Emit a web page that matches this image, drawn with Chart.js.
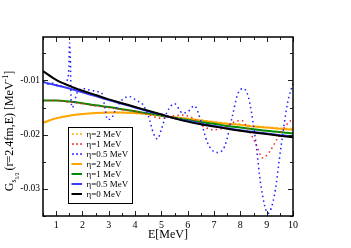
<!DOCTYPE html>
<html><head><meta charset="utf-8">
<script src="https://cdn.jsdelivr.net/npm/chart.js@4/dist/chart.umd.min.js"></script>
<style>html,body{margin:0;padding:0;background:#fff;}</style>
</head><body>
<canvas id="c" width="351" height="248"></canvas>
<script>
// ---- data ----
const smoothE = [0.5,1,1.5,2,2.5,3,3.5,4,4.5,5,5.5,6,6.5,7,7.5,8,8.5,9,9.5,10];
const eta0Solid   = [-0.0083,-0.0099,-0.0110,-0.0119,-0.0127,-0.0135,-0.0142,-0.0149,-0.0156,-0.0163,-0.0170,-0.0176,-0.0181,-0.0185,-0.0189,-0.0193,-0.0196,-0.0199,-0.0202,-0.0205];
const eta05Solid  = [-0.0103,-0.0109,-0.0115,-0.0122,-0.0129,-0.0136,-0.0143,-0.0150,-0.0157,-0.0163,-0.0170,-0.0175,-0.0180,-0.0184,-0.0188,-0.0192,-0.0195,-0.0198,-0.0201,-0.0203];
const eta1Solid   = [-0.0137,-0.0137,-0.0139,-0.0142,-0.0146,-0.0149,-0.0153,-0.0157,-0.0161,-0.0165,-0.0169,-0.0173,-0.0177,-0.0180,-0.0184,-0.0187,-0.0190,-0.0193,-0.0195,-0.0198];
const eta2Solid   = [-0.0178,-0.0170,-0.0165,-0.0162,-0.0160,-0.0159,-0.0159,-0.0160,-0.0162,-0.0165,-0.0168,-0.0171,-0.0174,-0.0177,-0.0180,-0.0182,-0.0185,-0.0187,-0.0189,-0.0191];
const eta2Dotted  = [-0.0177,-0.0169,-0.0165,-0.0162,-0.0160,-0.0159,-0.0160,-0.0161,-0.0163,-0.0166,-0.0168,-0.0170,-0.0173,-0.0176,-0.0179,-0.0181,-0.0184,-0.0186,-0.0188,-0.0189];

const redE        = [0.5,1,1.5,2,2.5,3,3.5,4,4.5,5,5.4,5.8,6.2,6.6,7,7.4,7.8,8.05,8.35,8.6,8.85,9.1,9.4,9.7,10];
const eta1Dotted  = [-0.0137,-0.0137,-0.0140,-0.0143,-0.0147,-0.0150,-0.0154,-0.0157,-0.0163,-0.0170,-0.0166,-0.0164,-0.0170,-0.0185,-0.0191,-0.0187,-0.0176,-0.0174,-0.0195,-0.0218,-0.0243,-0.0232,-0.0208,-0.0185,-0.0170];

const blueE       = [0.5,0.7,0.9,1.1,1.3,1.42,1.48,1.51,1.54,1.57,1.62,1.7,1.8,2.0,2.2,2.4,2.6,2.75,2.85,2.95,3.1,3.25,3.5,3.8,4.05,4.3,4.5,4.7,4.85,5.0,5.2,5.5,5.8,6.0,6.25,6.5,6.75,7.1,7.4,7.7,7.9,8.1,8.3,8.55,8.8,9.05,9.3,9.55,9.8,10];
const eta05Dotted = [-0.0103,-0.0107,-0.0105,-0.0111,-0.0108,-0.0100,-0.0080,-0.0031,-0.0060,-0.0140,-0.0150,-0.0138,-0.0122,-0.0115,-0.0117,-0.0119,-0.0121,-0.0125,-0.0150,-0.0172,-0.0170,-0.0155,-0.0136,-0.0130,-0.0137,-0.0145,-0.0165,-0.0198,-0.0208,-0.0190,-0.0160,-0.0143,-0.0160,-0.0158,-0.0147,-0.0175,-0.0215,-0.0233,-0.0222,-0.0165,-0.0125,-0.0115,-0.0130,-0.0200,-0.0300,-0.0345,-0.0310,-0.0220,-0.0140,-0.0105];

const xTickValues = [0.5,1,1.5,2,2.5,3,3.5,4,4.5,5,5.5,6,6.5,7,7.5,8,8.5,9,9.5,10];
const xTickLabels = [1,2,3,4,5,6,7,8,9,10];
const yTickValues = [-0.035,-0.03,-0.025,-0.02,-0.015,-0.01,-0.005];
const yTickLabels = [-0.03,-0.02,-0.01];
const legendLabels = ['η=2 MeV','η=1 MeV','η=0.5 MeV','η=2 MeV','η=1 MeV','η=0.5 MeV','η=0 MeV'];

const pts = (xs, ys) => xs.map((x, i) => ({x, y: ys[i]}));
const SERIF = '"Liberation Serif","DejaVu Serif",serif';

const dotted = (data, color) => ({data, borderColor: color, borderWidth: 1.5, borderDash: [1.5, 3.2],
  pointRadius: 0, cubicInterpolationMode: 'monotone', fill: false, _dotted: true});
const solid = (data, color) => ({data, borderColor: color, borderWidth: 2,
  pointRadius: 0, cubicInterpolationMode: 'monotone', fill: false});

const dsOrangeDot = dotted(pts(smoothE, eta2Dotted), '#ffa500');
const dsRedDot    = dotted(pts(redE, eta1Dotted), '#ff2020');
const dsBlueDot   = dotted(pts(blueE, eta05Dotted), '#2020ff');
const dsOrange    = solid(pts(smoothE, eta2Solid), '#ffa500');
const dsGreen     = solid(pts(smoothE, eta1Solid), '#008c00');
const dsBlue      = solid(pts(smoothE, eta05Solid), '#3c3cff');
const dsBlack     = solid(pts(smoothE, eta0Solid), '#000000');
const legendSets = [dsOrangeDot, dsRedDot, dsBlueDot, dsOrange, dsGreen, dsBlue, dsBlack];

const decor = {
  id: 'decor',
  afterDraw(chart) {
    const {ctx, chartArea: a, scales: {x, y}} = chart;
    ctx.save();
    ctx.strokeStyle = '#222'; ctx.lineWidth = 1;
    ctx.beginPath();
    xTickValues.forEach(v => {
      const px = Math.round(x.getPixelForValue(v)) + 0.5;
      const len = Number.isInteger(v) ? 5 : 3;
      ctx.moveTo(px, a.bottom); ctx.lineTo(px, a.bottom - len);
      ctx.moveTo(px, a.top); ctx.lineTo(px, a.top + len);
    });
    yTickValues.forEach(v => {
      const py = Math.round(y.getPixelForValue(v)) + 0.5;
      const len = yTickLabels.some(t => Math.abs(t - v) < 1e-9) ? 5 : 3;
      ctx.moveTo(a.left, py); ctx.lineTo(a.left + len, py);
      ctx.moveTo(a.right, py); ctx.lineTo(a.right - len, py);
    });
    ctx.stroke();
    ctx.strokeStyle = '#000'; ctx.lineWidth = 1.5;
    ctx.strokeRect(a.left, a.top, a.right - a.left, a.bottom - a.top);

    // legend
    const lx = 68.5, ly = 127.5, lw = 64, lh = 76;
    ctx.fillStyle = '#fff'; ctx.fillRect(lx, ly, lw, lh);
    ctx.strokeStyle = '#000'; ctx.lineWidth = 1; ctx.strokeRect(lx, ly, lw, lh);
    ctx.font = '9px ' + SERIF; ctx.textBaseline = 'middle'; ctx.textAlign = 'left';
    legendLabels.forEach((lab, i) => {
      const ds = legendSets[i];
      const cy = 134 + i * 10;
      ctx.strokeStyle = ds.borderColor; ctx.fillStyle = ds.borderColor;
      if (ds._dotted) {
        [73, 77, 81].forEach(dx => ctx.fillRect(dx - 0.8, cy - 0.8, 1.7, 1.7));
      } else {
        ctx.lineWidth = 2; ctx.beginPath(); ctx.moveTo(71.5, cy); ctx.lineTo(82, cy); ctx.stroke();
      }
      ctx.fillStyle = '#000';
      ctx.fillText(lab, 86.5, cy + 0.5);
    });

    // x title
    ctx.fillStyle = '#000';
    ctx.font = '12px ' + SERIF; ctx.textAlign = 'center'; ctx.textBaseline = 'alphabetic';
    ctx.fillText('E[MeV]', 168, 238);

    // y title with sub/superscripts
    const parts = [
      {t: 'G', s: 12, dy: 0},
      {t: 's', s: 8, dy: 3},
      {t: '1/2', s: 5.5, dy: 5.5},
      {t: '(r=2.4fm,E) [MeV', s: 12, dy: 0, pre: 2},
      {t: '-1', s: 8, dy: -5},
      {t: ']', s: 12, dy: 0}
    ];
    let total = 0;
    parts.forEach(p => { ctx.font = p.s + 'px ' + SERIF; p.w = ctx.measureText(p.t).width; total += p.w + (p.pre || 0); });
    ctx.translate(13, 131);
    ctx.rotate(-Math.PI / 2);
    ctx.textAlign = 'left';
    let cx = -total / 2;
    parts.forEach(p => {
      cx += (p.pre || 0);
      ctx.font = p.s + 'px ' + SERIF;
      ctx.fillText(p.t, cx, p.dy);
      cx += p.w;
    });
    ctx.restore();
  }
};

new Chart(document.getElementById('c'), {
  type: 'line',
  data: { datasets: [dsBlack, dsBlueDot, dsRedDot, dsOrangeDot, dsBlue, dsGreen, dsOrange] },
  options: {
    responsive: false, animation: false, devicePixelRatio: 1,
    layout: { padding: { left: 0, right: 58, top: 37, bottom: 0 } },
    plugins: { legend: { display: false }, tooltip: { enabled: false } },
    scales: {
      x: {
        type: 'linear', min: 0.5, max: 10,
        grid: { display: false, drawTicks: false }, border: { display: false },
        afterBuildTicks: s => { s.ticks = xTickLabels.map(v => ({value: v})); },
        afterFit: s => { s.height = 32; },
        ticks: { autoSkip: false, maxRotation: 0, padding: 3, color: '#000',
          font: { family: SERIF, size: 10 }, callback: v => String(v) }
      },
      y: {
        type: 'linear', min: -0.035, max: -0.002,
        grid: { display: false, drawTicks: false }, border: { display: false },
        afterBuildTicks: s => { s.ticks = yTickLabels.map(v => ({value: v})); },
        afterFit: s => { s.width = 43; },
        ticks: { autoSkip: false, padding: 3, color: '#000',
          font: { family: SERIF, size: 9.5 }, callback: v => String(Math.round(v * 100) / 100) }
      }
    }
  },
  plugins: [decor]
});
</script>
</body></html>
